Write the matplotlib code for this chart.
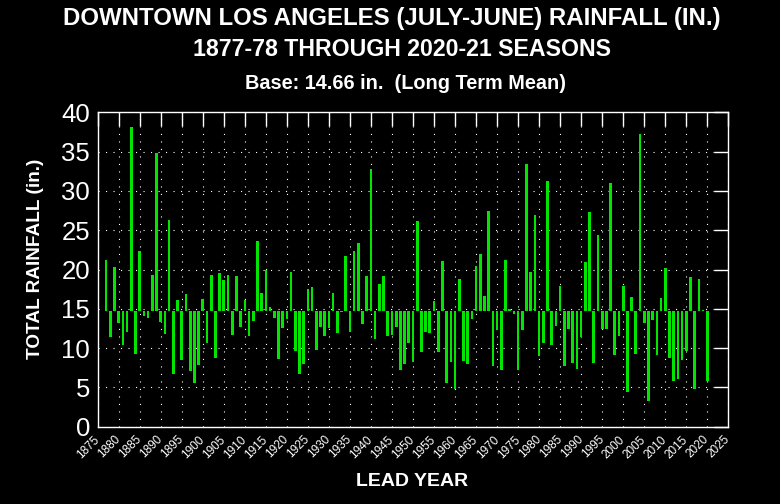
import matplotlib
matplotlib.use("Agg")
import matplotlib.pyplot as plt
import numpy as np

plt.rcParams['font.family'] = ['Liberation Sans', 'DejaVu Sans']
plt.rcParams['lines.scale_dashes'] = False

base = 14.66
years = list(range(1877, 2021))
rain = [
    21.26, 11.35, 20.34, 13.13, 10.40, 12.11, 38.18, 9.21, 22.31, 14.05,
    13.87, 19.28, 34.84, 13.36, 11.85, 26.28, 6.73, 16.11, 8.51, 16.88,
    7.06, 5.59, 7.91, 16.29, 10.60, 19.32, 8.72, 19.52, 18.65, 19.30,
    11.72, 19.18, 12.63, 16.18, 11.60, 13.42, 23.65, 17.05, 19.92, 15.26,
    13.86, 8.58, 12.52, 13.65, 19.66, 9.59, 6.67, 7.94, 17.56, 17.76,
    9.77, 12.66, 11.52, 12.53, 16.95, 11.88, 14.55, 21.66, 12.07, 22.41,
    23.43, 13.07, 19.21, 32.76, 11.18, 18.17, 19.22, 11.59, 11.65, 12.66,
    7.22, 7.99, 10.60, 8.21, 26.21, 9.46, 11.99, 11.94, 16.00, 9.54,
    21.13, 5.58, 8.18, 4.85, 18.79, 8.38, 7.93, 13.69, 20.44, 22.00,
    16.58, 27.47, 7.77, 12.32, 7.17, 21.26, 14.92, 14.35, 7.22, 12.31,
    33.44, 19.67, 26.98, 8.96, 10.71, 31.28, 10.43, 12.82, 17.86, 7.66,
    12.48, 8.08, 7.35, 11.45, 21.00, 27.36, 8.14, 24.35, 12.44, 12.40,
    31.01, 9.09, 11.57, 17.94, 4.42, 16.49, 9.25, 37.25, 13.19, 3.21,
    13.53, 9.08, 16.36, 20.20, 8.69, 5.85, 6.08, 8.52, 9.65, 19.00,
    4.79, 18.82, 14.86, 5.82,
]
xticks = list(range(1875, 2026, 5))
yticks = list(range(0, 41, 5))

bg = 'black'
fg = 'white'
green = '#00e600'

fig = plt.figure(figsize=(7.8, 5.04), dpi=100, facecolor=bg)
ax = fig.add_axes([97.7/780, 1-426.7/504, (728.3-97.7)/780, (426.7-112.3)/504])
ax.set_facecolor(bg)

heights = [v - base for v in rain]
ax.bar(years, heights, bottom=base, width=0.63, color=green, linewidth=0, zorder=3)

ax.set_xlim(1875, 2025)
ax.set_ylim(0, 40)
ax.set_xticks(xticks)
ax.set_yticks(yticks)
ax.set_xticklabels([str(t) for t in xticks], rotation=45, ha='right', va='center',
                   rotation_mode='anchor', fontsize=8.5, color=fg)
ax.set_yticklabels([str(t) for t in yticks], fontsize=18.5, color=fg)

ax.tick_params(axis='x', which='both', bottom=False, top=True, labelbottom=True,
               direction='in', length=10, width=1, color=fg, pad=8)
ax.tick_params(axis='y', which='both', left=False, right=True, labelleft=True,
               direction='in', length=10, width=1, color=fg, pad=5.5)

ax.grid(True, color=fg, linewidth=0.8, linestyle=(0, (0.8, 4.6)), zorder=1)

for s in ax.spines.values():
    s.set_color(fg)
    s.set_linewidth(1.0)
    s.set_zorder(4)

fig.text(392/780, 1-18.3/504, 'DOWNTOWN LOS ANGELES (JULY-JUNE) RAINFALL (IN.)',
         ha='center', va='center', color=fg, fontsize=17.3, fontweight='bold')
fig.text(402/780, 1-49/504, '1877-78 THROUGH 2020-21 SEASONS',
         ha='center', va='center', color=fg, fontsize=16.7, fontweight='bold')
fig.text(405.5/780, 1-83.5/504, 'Base: 14.66 in.  (Long Term Mean)',
         ha='center', va='center', color=fg, fontsize=14.3, fontweight='bold')

fig.text(412.5/780, 1-482/504, 'LEAD YEAR', ha='center', va='center',
         color=fg, fontsize=14, fontweight='bold')
fig.text(35.6/780, 1-259/504, 'TOTAL RAINFALL (in.)', ha='center', va='center',
         rotation=90, color=fg, fontsize=13.7, fontweight='bold')

fig.savefig('out.png', dpi=100, facecolor=bg)
